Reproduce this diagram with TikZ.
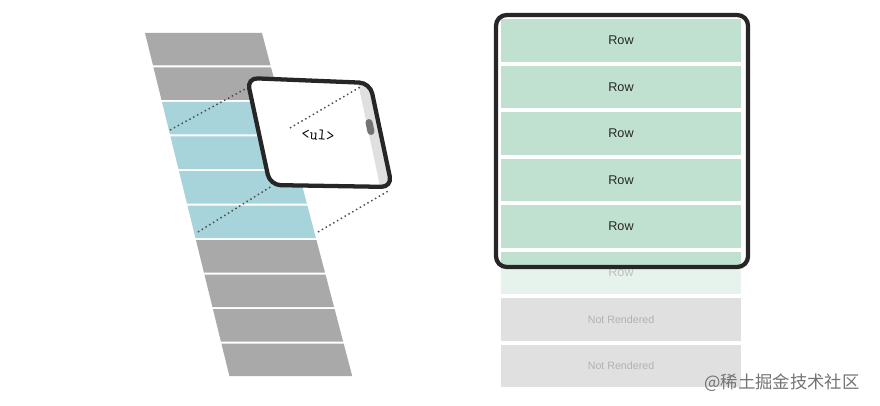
\documentclass[tikz,border=0pt]{standalone}
\usepackage{fontspec}
\setsansfont{Liberation Sans}
\newfontfamily\cjk{Noto Sans CJK SC}
\usetikzlibrary{positioning}
\definecolor{stripgray}{HTML}{A9A9A9}
\definecolor{stripteal}{HTML}{A6D4DA}
\definecolor{rowgreen}{HTML}{C0E1D0}
\definecolor{rowfaded}{HTML}{E6F3EC}
\definecolor{rowgray}{HTML}{E0E0E0}
\tikzset{
  row/.style={minimum width=180pt,minimum height=31.9pt,inner sep=0pt,
    font=\sffamily\fontsize{9.5}{11}\selectfont,text=black!85},
  ghost/.style={row,font=\sffamily\fontsize{8}{9}\selectfont,text=black!30},
  proj/.style={dash pattern=on 1.1pt off 2.2pt,line width=1.1pt,black!70},
  frame/.style={line width=3.2pt,black!85,rounded corners=8pt},
}
\begin{document}
\begin{tikzpicture}[x=0.75pt,y=0.75pt,yscale=-1,xscale=1]
    \useasboundingbox (0,0) rectangle (880,406);
    
    % slanted strip
    \foreach \i in {0,...,9}{
      \pgfmathsetmacro{\ya}{33+34.5*\i}
      \pgfmathsetmacro{\yb}{\ya+32.5}
      \pgfmathsetmacro{\xa}{145+0.246*(\ya-33)}
      \pgfmathsetmacro{\xb}{145+0.246*(\yb-33)}
      \pgfmathsetmacro{\wa}{117+0.017*(\ya-33)}
      \pgfmathsetmacro{\wb}{117+0.017*(\yb-33)}
      \ifnum\i<2 \def\c{stripgray}\else\ifnum\i<6 \def\c{stripteal}\else\def\c{stripgray}\fi\fi
      \fill[\c] (\xa,\ya) -- (\xa+\wa,\ya) -- (\xb+\wb,\yb) -- (\xb,\yb) -- cycle;
    }
    
    % projection lines
    \coordinate (pa) at (170,130);
    \coordinate (pb) at (247,88);
    \coordinate (pc) at (198,232);
    \coordinate (pd) at (272,186);
    \coordinate (pe) at (318,232);
    \coordinate (pf) at (390,190);
    \coordinate (pg) at (290,128);
    \coordinate (ph) at (362,86);
    \draw[proj] (pa) -- (pb);
    \draw[proj] (pc) -- (pd);
    \draw[proj] (pe) -- (pf);
    
    % viewport
    \fill[white,rounded corners=8pt] (247,78) -- (370,83) -- (392,187) -- (270,185) -- cycle;
    \fill[rowgray] (358,83) -- (368,83) -- (390,186) -- (380,186) -- cycle;
    \fill[black!55,rounded corners=2.5pt,rotate around={-12:(370,127)}] (366.5,119) rectangle (373.5,135);
    \draw[proj] (pg) -- (ph);
    \node[font=\ttfamily\fontsize{12}{14}\selectfont,rotate=-5] (ul) at (318,135) {<ul>};
    \draw[frame] (247,78) -- (370,83) -- (392,187) -- (270,185) -- cycle;
    
    % list rows
    \foreach \i in {0,...,4}
      \node[row,fill=rowgreen] (r\i) at (621,40.5+46.5*\i) {Row};
    \fill[rowfaded] (501,251.5) rectangle (741,294);
    \fill[rowgreen] (501,251.5) rectangle (741,267);
    \node[ghost,font=\sffamily\fontsize{9.5}{11}\selectfont,text=black!25] (r5) at (621,272) {Row};
    \node[ghost,fill=rowgray] (n1) at (621,319.5) {Not Rendered};
    \node[ghost,fill=rowgray] (n2) at (621,366) {Not Rendered};
    \draw[frame] (496,15) rectangle (748,267);
    
    \node[font=\cjk\fontsize{13}{15}\selectfont,text=black!55] (wm) at (782,383) {@稀土掘金技术社区};
\end{tikzpicture}
\end{document}
